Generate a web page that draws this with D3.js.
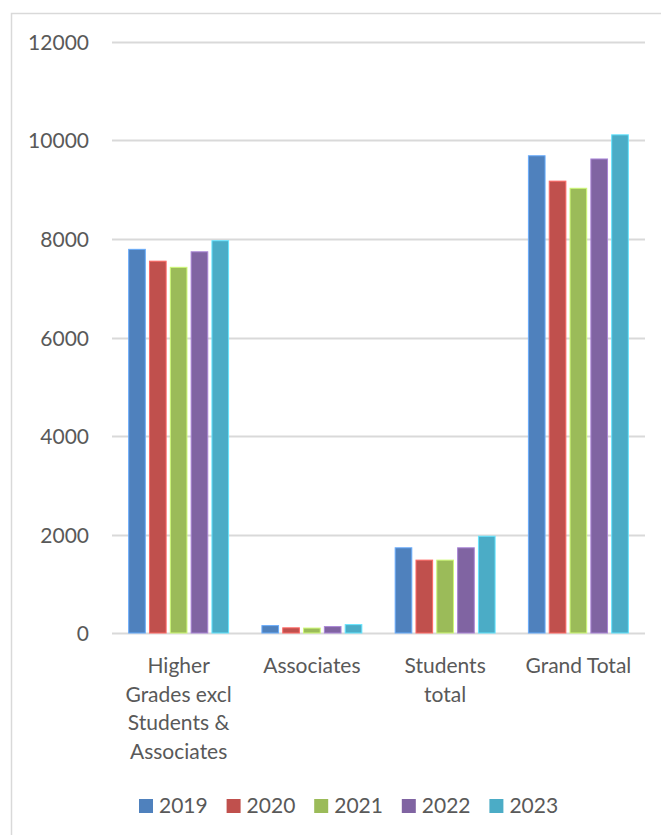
<!DOCTYPE html>
<html>
<head>
<meta charset="utf-8">
<script src="https://cdn.jsdelivr.net/npm/d3@7"></script>
<style>
  body { margin: 0; background: #fff; }
  text { font-family: Lato, "Open Sans", sans-serif; fill: #595959; }
</style>
</head>
<body>
<svg id="chart"></svg>
<script>
// data
var categories = [["Higher", "Grades excl", "Students &", "Associates"], ["Associates"], ["Students", "total"], ["Grand Total"]];
var years = ["2019", "2020", "2021", "2022", "2023"];
var colors = ["#4F81BD", "#C0504D", "#9BBB59", "#8064A2", "#4BACC6"];
var v2019 = [7790, 150, 1730, 9690];
var v2020 = [7550, 105, 1480, 9175];
var v2021 = [7425, 100, 1480, 9030];
var v2022 = [7740, 130, 1730, 9625];
var v2023 = [7965, 170, 1965, 10115];
var series = [v2019, v2020, v2021, v2022, v2023];
var yTicks = [0, 2000, 4000, 6000, 8000, 10000, 12000];

width = 661;
height = 835;
margin = {left: 112, right: 16, top: 42, bottom: 203};

svg = d3.select("#chart")
    .attr("width", width)
    .attr("height", height);

// chart frame
svg.append("rect")
    .attr("x", 11.5).attr("y", 13.5)
    .attr("width", width)
    .attr("height", height)
    .attr("style", "fill:none; stroke:#d9d9d9; stroke-width:1.5");

y = d3.scaleLinear()
    .domain([0, 12000])
    .range([height - margin.bottom + 1, margin.top]);

x0 = d3.scaleBand()
    .domain(d3.range(categories.length))
    .range([margin.left, width - margin.right])
    .paddingInner(0.25)
    .paddingOuter(0.125);

x1 = d3.scaleBand()
    .domain(years)
    .range([0, x0.bandwidth()])
    .paddingInner(0.2);

// gridlines + y labels
gy = svg.append("g")
    .selectAll("g")
    .data(yTicks)
    .enter().append("g")
        .attr("transform", (d) => "translate(0," + (Math.round(y(d)) + 0.5) + ")");
gy.append("line")
    .attr("x1", margin.left)
    .attr("x2", width - margin.right)
    .attr("style", "stroke:#d9d9d9; stroke-width:2");
gy.append("text")
    .attr("x", 89)
    .attr("dy", "0.35em")
    .attr("text-anchor", "end")
    .attr("style", "font-size:21px")
    .text((d) => d);

// bars
groups = svg.append("g")
    .selectAll("g")
    .data(series)
    .enter().append("g")
        .attr("fill", (d, i) => colors[i])
        .attr("stroke", (d, i) => d3.color(colors[i]).brighter(0.8))
        .attr("stroke-width", 1);
groups.selectAll("rect")
    .data((d, i) => d.map((v, j) => ({v: v, j: j, yr: years[i]})))
    .enter().append("rect")
        .attr("x", (d) => x0(d.j) + x1(d.yr))
        .attr("y", (d) => y(d.v))
        .attr("width", x1.bandwidth())
        .attr("height", (d) => y(0) - y(d.v));

// category labels
cl = svg.append("g")
    .selectAll("text")
    .data(categories)
    .enter().append("text")
        .attr("text-anchor", "middle")
        .attr("style", "font-size:21px")
        .attr("transform", (d, i) => "translate(" + (x0(i) + x0.bandwidth() / 2) + ",673)");
cl.selectAll("tspan")
    .data((d) => d)
    .enter().append("tspan")
        .attr("x", 0)
        .attr("y", (d, i) => i * 28.5)
        .text((d) => d);

// legend
lg = svg.append("g")
    .selectAll("g")
    .data(years)
    .enter().append("g")
        .attr("transform", (d, i) => "translate(" + (139 + i * 87.6) + ",799)");
lg.append("rect")
    .attr("width", 14)
    .attr("height", 14)
    .attr("fill", (d, i) => colors[i]);
lg.append("text")
    .attr("x", 20)
    .attr("y", 7)
    .attr("dy", "0.35em")
    .attr("style", "font-size:21px")
    .text((d) => d);
</script>
</body>
</html>
